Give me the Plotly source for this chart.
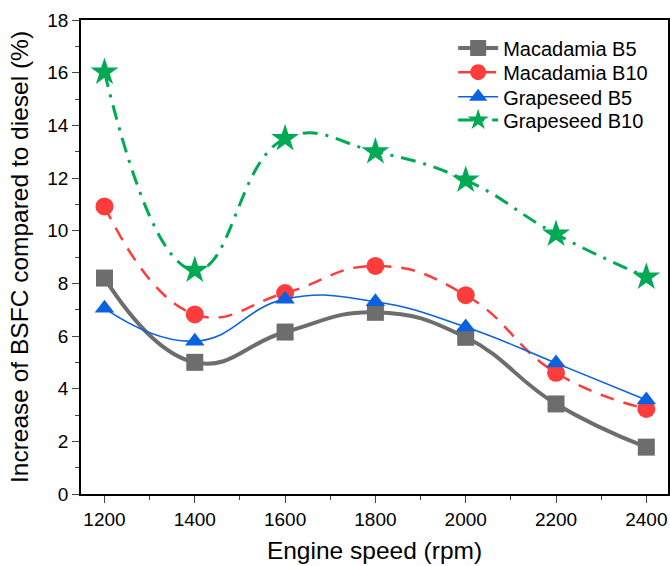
import plotly.graph_objects as go

speed = [1200, 1400, 1600, 1800, 2000, 2200, 2400]
mac_b5 = [8.2, 5.0, 6.15, 6.9, 5.95, 3.42, 1.78]
mac_b10 = [10.92, 6.82, 7.63, 8.66, 7.55, 4.6, 3.23]
grape_b5 = [7.05, 5.8, 7.4, 7.3, 6.34, 4.97, 3.57]
grape_b10 = [16.02, 8.5, 13.5, 13.0, 11.92, 9.87, 8.24]

series = [
    ("Macadamia B5", mac_b5, "#6d6d6d", 4, "solid", "square", 17),
    ("Macadamia B10", mac_b10, "#ff3c3c", 2.5, "14px,10px", "circle", 18),
    ("Grapeseed B5", grape_b5, "#0a62e0", 1.6, "solid", "triangle-up", 17),
    ("Grapeseed B10", grape_b10, "#00aa55", 3, "15px,8px,3px,8px", "star", 21),
]
legend_ids = ["legend", "legend2", "legend3", "legend4"]
legend_rows = [0.941, 0.890, 0.838, 0.789]

fam = "Liberation Sans, Arial, sans-serif"
fig = go.Figure()
for (name, vals, color, width, dash, symbol, size), lid in zip(series, legend_ids):
    fig.add_trace(go.Scatter(
        x=speed, y=vals, name=name, mode="lines+markers",
        line=dict(color=color, width=width, dash=dash, shape="spline", smoothing=1.3),
        marker=dict(symbol=symbol, size=size, color=color, line=dict(width=0)),
        cliponaxis=False, legend=lid,
    ))

legend_style = dict(x=0.634, xanchor="left", yanchor="middle",
                    bgcolor="rgba(0,0,0,0)", font=dict(size=20, family=fam, color="black"),
                    itemwidth=40)
layout_legends = {lid: dict(legend_style, y=ly) for lid, ly in zip(legend_ids, legend_rows)}

tick_font = dict(family=fam, size=19, color="black")
fig.update_layout(
    width=670, height=566,
    margin=dict(l=81, r=2, t=20, b=72),
    plot_bgcolor="white", paper_bgcolor="white",
    font=dict(family=fam, color="black"),
    showlegend=True,
    **layout_legends,
)
fig.update_xaxes(
    range=[1148, 2448], tickvals=speed, ticks="outside", ticklen=7, tickwidth=1.3,
    showline=True, linecolor="black", linewidth=1.5, mirror=True, showgrid=False, zeroline=False,
    minor=dict(dtick=100, tick0=1100, ticks="outside", ticklen=4, tickwidth=1.3, showgrid=False),
    title=dict(text="Engine speed (rpm)", font=dict(size=24.5, family=fam, color="black"), standoff=13),
    tickfont=tick_font, automargin=False,
)
fig.update_yaxes(
    range=[0, 18], dtick=2, tick0=0, ticks="outside", ticklen=7, tickwidth=1.3,
    showline=True, linecolor="black", linewidth=1.5, mirror=True, showgrid=False, zeroline=False,
    minor=dict(dtick=1, tick0=0, ticks="outside", ticklen=4, tickwidth=1.3, showgrid=False),
    title=dict(text="Increase of BSFC compared to diesel (%)", font=dict(size=24.5, family=fam, color="black"), standoff=12),
    tickfont=tick_font, automargin=False,
)
fig.write_html(
    "out.html",
    config={"displayModeBar": False},
    post_script="document.body.style.margin='0';document.body.style.overflow='hidden';",
)
